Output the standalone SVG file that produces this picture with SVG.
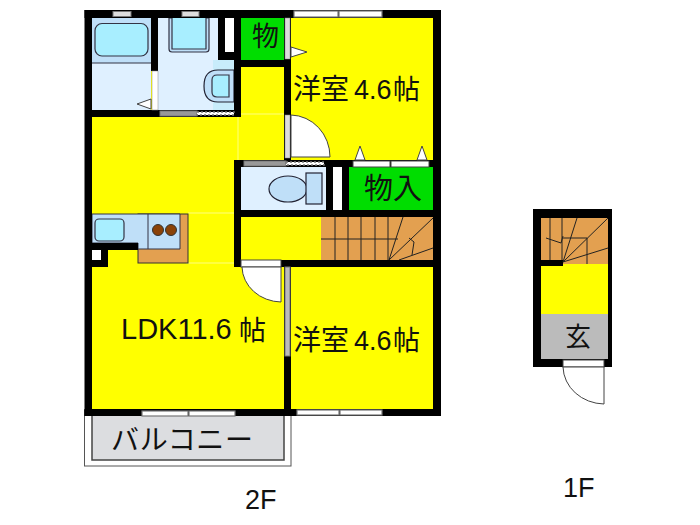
<svg xmlns="http://www.w3.org/2000/svg" width="700" height="525" viewBox="0 0 700 525">
<style>
.t{font-family:"Noto Sans CJK JP","Liberation Sans",sans-serif;fill:#111}
.l{font-family:"Liberation Sans",Arial,sans-serif;fill:#111}
.w{fill:#000}
.y{fill:#ff0}
.g{fill:#0d0}
.fx{fill:#bfdff8;stroke:#223;stroke-width:1.2}
.cy{fill:#a8eeff;stroke:#334;stroke-width:1.2}
.fl{fill:#dff0ff}
.st{fill:#e3a050}
.sl{stroke:#222;stroke-width:1;fill:none}
.dr{fill:#fff;stroke:#444;stroke-width:1}
.wn{fill:#fff;stroke:#777;stroke-width:1.2}
.gr{fill:#ddd;stroke:#777;stroke-width:1}
.dt{fill:#fff;stroke:#777;stroke-width:1.5;stroke-dasharray:2 2}
</style>
<rect width="700" height="525" fill="#fff"/>
<g id="balcony">
<rect x="84.500" y="410" width="206.500" height="56" fill="#fff" stroke="#555"/>
<rect x="92" y="410" width="192" height="50" fill="#dcdde0" stroke="#444" stroke-width="1.500"/>
<text class="t" x="111" y="450" font-size="28" textLength="142">バルコニー</text>
</g>
<g id="floors">
<rect class="y" x="92" y="18" width="341" height="392"/>
<path d="M238 117V160M241 114H284M188 213H234M186 263H234" stroke="#ffff80" fill="none"/>
</g>
<g id="bath">
<rect class="fl" x="92" y="18" width="59" height="92"/>
<rect x="92" y="18" width="59" height="45" fill="#bfdff8"/>
<path d="M92 63H151" stroke="#334" stroke-width="1"/>
<rect class="cy" x="95" y="23.500" width="53" height="32.500" rx="7"/>
</g>
<g id="wash">
<rect class="fl" x="158" y="18" width="76" height="92"/>
<rect x="213" y="60" width="21" height="50" fill="#c8ecfb"/>
<path d="M169 18V49Q169 52 172 52H206Q209 52 209 49V18Z" fill="#bfdff8" stroke="#334" stroke-width="1.200"/>
<path class="cy" d="M172 18V49H206V18"/>
<path d="M234 70H218Q204 70 204 86Q204 102 218 102H234Z" class="fx"/>
<path d="M229 75H217Q212 75 212 80V92Q212 97 217 97H229Z" class="cy"/>
</g>
<g id="toilet">
<rect class="fl" x="241" y="167" width="85" height="43"/>
<ellipse class="fx" cx="288" cy="189" rx="19" ry="13"/>
<rect class="fx" x="306" y="173" width="16" height="31"/>
</g>
<g id="closet-1">
<rect class="g" x="241" y="18" width="43" height="42"/>
<text class="t" x="252" y="46" font-size="27">物</text>
</g>
<g id="closet-2">
<rect class="g" x="349" y="167" width="84" height="43"/>
<text class="t" x="364" y="199" font-size="29">物入</text>
</g>
<g id="kitchen">
<rect class="st" x="138" y="214" width="50" height="49" stroke="#333"/>
<path d="M92 214H180V249H138V243H92Z" fill="#bfdff8" stroke="#334"/>
<path d="M148 214V249" stroke="#334"/>
<rect class="cy" x="95" y="219" width="29" height="22" rx="4"/>
<circle cx="158" cy="230" r="5.500" fill="#8a4208" stroke="#333"/>
<circle cx="171" cy="230" r="5.500" fill="#8a4208" stroke="#333"/>
<path class="w" d="M92 243H138V250H108V267H92Z"/>
<rect x="92" y="250" width="9" height="10" fill="#fff"/>
</g>
<g id="stairs-2f">
<rect class="st" x="321" y="217" width="112" height="43"/>
<path class="sl" d="M321 239H398M335 217V260M348 217V260M361 217V260M375 217V260M388 217V260M403 217L389 260M433 218L389 260M433 248L399 260M409 238L414 242L412 255"/>
</g>
<g id="walls" class="w">
<rect x="84.500" y="10" width="356.500" height="8"/>
<rect x="84.500" y="10" width="7.500" height="406"/>
<rect x="433" y="10" width="8" height="406"/>
<rect x="84.500" y="409" width="356.500" height="7"/>
<rect x="151" y="18" width="7" height="53"/>
<rect x="92" y="110" width="149" height="7"/>
<rect x="218" y="18" width="23" height="42"/>
<rect x="234" y="60" width="7" height="57"/>
<rect x="241" y="60" width="50" height="7"/>
<rect x="284" y="18" width="7" height="142"/>
<rect x="234" y="160" width="115" height="7"/>
<rect x="234" y="160" width="7" height="107"/>
<rect x="326" y="167" width="23" height="43"/>
<rect x="234" y="210" width="207" height="7"/>
<rect x="281" y="260" width="160" height="7"/>
<rect x="284" y="267" width="7" height="142"/>
<rect x="349" y="160" width="84" height="7"/>
</g>
<g id="doors">
<rect x="152" y="71" width="6" height="39" fill="#fff" stroke="#888" stroke-width=".5"/>
<path d="M151 99L137 104L151 109Z" fill="#fff" stroke="#444"/>
<rect x="160" y="111" width="37" height="5" fill="#999" stroke="#777"/>
<rect class="dt" x="197" y="112" width="37" height="3"/>
<rect class="gr" x="113" y="11.500" width="18" height="5"/>
<rect class="gr" x="182" y="11.500" width="17" height="5"/>
<rect x="225" y="18" width="9" height="34" fill="#fff"/>
<rect x="285" y="18" width="5" height="41" fill="#ddd" stroke="#888" stroke-width=".5"/>
<path d="M291 47L307 52L291 57Z" class="dr"/>
<rect x="285" y="115" width="5" height="43" fill="#ddd" stroke="#888" stroke-width=".5"/>
<path d="M291 115A40 42 0 0 1 330 157H291Z" class="dr"/>
<rect class="wn" x="294" y="11" width="44" height="6"/>
<rect class="wn" x="339" y="11" width="43" height="6"/>
<rect x="353" y="161" width="37" height="6" class="dr"/>
<rect x="391" y="161" width="38" height="6" class="dr"/>
<path d="M355 160L360 146L365 160ZM417 160L422 146L427 160Z" class="dr"/>
<rect x="244" y="161" width="42" height="5" fill="#999" stroke="#777"/>
<rect class="dt" x="286" y="162" width="38" height="3"/>
<rect x="333" y="167" width="9" height="43" fill="#fff"/>
<rect x="241" y="260" width="40" height="7" class="dr"/>
<path d="M242 267H281V302A40 36 0 0 1 242 267Z" class="dr"/>
<rect x="285" y="267" width="5" height="89" fill="#bbb" stroke="#777"/>
<rect class="wn" x="142" y="411" width="46" height="5"/>
<rect class="wn" x="189" y="411" width="46" height="5"/>
<rect class="wn" x="297" y="410" width="42" height="5"/>
<rect class="wn" x="340" y="410" width="42" height="5"/>
</g>
<g id="labels-2f">
<text class="t" x="293" y="99" font-size="28">洋室</text>
<text class="l" x="354" y="99" font-size="27">4.6</text>
<text class="t" x="393" y="99" font-size="27">帖</text>
<text class="t" x="293" y="350" font-size="28">洋室</text>
<text class="l" x="354" y="350" font-size="27">4.6</text>
<text class="t" x="393" y="350" font-size="27">帖</text>
<text class="l" x="121" y="339" font-size="29">LDK11.6</text>
<text class="t" x="239" y="340" font-size="27">帖</text>
<text class="l" x="245" y="509" font-size="27">2F</text>
</g>
<g id="floor-1f">
<rect class="w" x="533" y="209" width="79" height="158"/>
<rect class="st" x="541" y="218" width="67" height="46"/>
<rect class="y" x="541" y="264" width="67" height="50"/>
<rect x="541" y="314" width="67" height="45" fill="#bbb"/>
<rect class="w" x="541" y="260" width="22" height="6"/>
<path class="sl" d="M550 218V260M562 218V260M577 218L563 262M608 218L563 262M608 248L563 262M587 238V264M563 238H587M546 238L561 243L563 236"/>
<text class="t" x="565" y="346" font-size="26">玄</text>
<rect x="563" y="360" width="41" height="7" class="dr"/>
<path d="M563 367H604V404A42 38 0 0 1 563 367Z" class="dr"/>
<text class="l" x="563" y="497" font-size="27">1F</text>
</g>
</svg>
